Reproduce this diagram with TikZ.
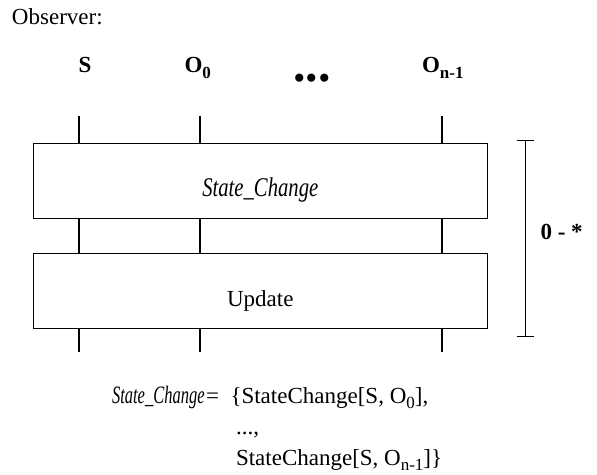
\documentclass[tikz,border=0pt]{standalone}
\usepackage{fontspec}
\setmainfont{Liberation Serif}
\usepackage{graphicx}
\newcommand{\lowidx}[1]{\raisebox{-5.5pt}{\fontsize{17}{17}\selectfont #1}}
\newcommand{\condit}[3]{\scalebox{#1}[1]{\fontsize{#2}{#2}\selectfont\itshape #3}}
\begin{document}
\begin{tikzpicture}[x=1pt,y=-1pt,
  every node/.style={inner sep=0pt, outer sep=0pt, font=\fontsize{23}{27}\selectfont},
  head/.style={anchor=base west, font=\fontsize{23}{27}\selectfont\bfseries},
  blockbox/.style={draw, line width=1pt, anchor=north west, minimum width=454pt, minimum height=75.4pt},
  tick/.style={line width=2pt},
  span/.style={line width=1pt}]
  \useasboundingbox (0,0) rectangle (597,474);

  % title
  \node[anchor=base west] (obs) at (12,24.5) {Observer:};

  % column heads
  \node[head] (hS) at (78.5,72.5) {S};
  \node[head] (hO0) at (184.5,72.5) {O\lowidx{0}};
  \node[anchor=base, font=\fontsize{50}{50}\selectfont\bfseries] (hdots) at (312,81) {...};
  \node[head] (hOn) at (422,72.5) {O\lowidx{n-1}};

  % column positions
  \coordinate (cS) at (79.3,115.7);
  \coordinate (cO) at (200,115.7);
  \coordinate (cN) at (442,115.7);

  % the two blocks
  \node[blockbox] (sc) at (33.3,143.3) {};
  \node[blockbox] (up) at (33.3,253.3) {};
  \node[anchor=base] (sclbl) at (260.3,196.7) {\condit{0.766}{27}{State\_Change}};
  \node[anchor=base] (uplbl) at (260.3,306.5) {Update};

  % bottom stubs
  \coordinate (bS) at (79.3,352.3);
  \coordinate (bO) at (200,352.3);
  \coordinate (bN) at (442,352.3);

  \foreach \c in {cS,cO,cN} \draw[tick] (\c) -- (sc.north -| \c);
  \foreach \c in {cS,cO,cN} \draw[tick] (sc.south -| \c) -- (up.north -| \c);
  \foreach \c in {bS,bO,bN} \draw[tick] (up.south -| \c) -- (\c);

  % repetition bracket
  \coordinate (rt) at (525.7,140);
  \coordinate (rb) at (525.7,336);
  \draw[span] (rt) -- (rb);
  \draw[span] ([xshift=-9pt]rt) -- ([xshift=8.6pt]rt);
  \draw[span] ([xshift=-9pt]rb) -- ([xshift=8.6pt]rb);
  \node[head] (rep) at (540.5,239.3) {0 - *};

  % definition of State_Change
  \node[anchor=base west] (defl) at (112,403) {\condit{0.66}{25}{State\_Change}};
  \node[anchor=base west] (defeq) at (206,403) {=};
  \node[anchor=base west] (def1) at (230.5,403) {\{StateChange[S, O\lowidx{0}],};
  \node[anchor=base west] (def2) at (236,434) {...,};
  \node[anchor=base west] (def3) at (236,465) {StateChange[S, O\lowidx{n-1}]\}};
\end{tikzpicture}
\end{document}
